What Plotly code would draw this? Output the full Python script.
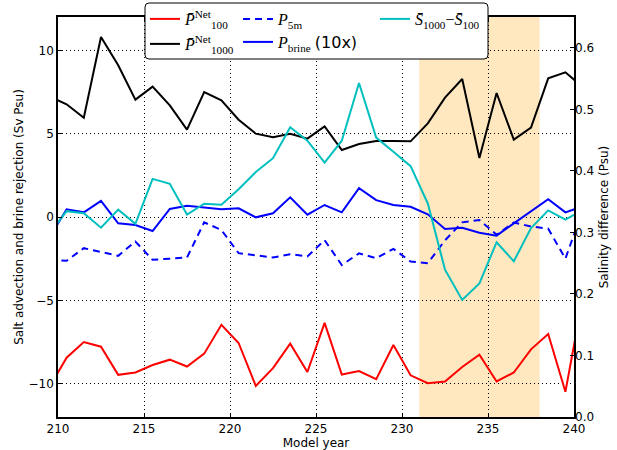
import plotly.graph_objects as go

# ---- data ----
years = [209.5, 210.5, 211.5, 212.5, 213.5, 214.5, 215.5, 216.5, 217.5, 218.5,
         219.5, 220.5, 221.5, 222.5, 223.5, 224.5, 225.5, 226.5, 227.5, 228.5,
         229.5, 230.5, 231.5, 232.5, 233.5, 234.5, 235.5, 236.5, 237.5, 238.5,
         239.5, 240.5]

p_net_100 = [-10.22, -8.44, -7.5, -7.78, -9.47, -9.33, -8.88, -8.56, -8.97, -8.2,
             -6.47, -7.56, -10.13, -9.07, -7.6, -9.3, -6.35, -9.45, -9.24, -9.73,
             -7.68, -9.5, -9.97, -9.87, -9.0, -8.26, -9.87, -9.33, -7.94, -7.02,
             -10.49, -4.9]

p_net_1000 = [7.24, 6.76, 5.96, 10.8, 9.1, 7.04, 7.82, 6.7, 5.24, 7.5,
              7.0, 5.84, 5.0, 4.78, 5.0, 4.7, 5.44, 4.02, 4.38, 4.56,
              4.56, 4.54, 5.62, 7.16, 8.28, 3.54, 7.44, 4.64, 5.36, 8.32,
              8.68, 7.8]

p_5m = [-2.57, -2.63, -1.87, -2.1, -2.33, -1.47, -2.57, -2.5, -2.43, -0.32,
        -0.78, -2.17, -2.31, -2.43, -2.23, -2.37, -1.39, -2.88, -2.18, -2.47,
        -1.91, -2.67, -2.77, -1.4, -0.32, -0.18, -1.06, -0.33, -0.57, -0.7,
        -2.5, 0.4]

p_brine = [-1.22, 0.46, 0.28, 0.97, -0.38, -0.48, -0.84, 0.48, 0.67, 0.56,
           0.46, 0.52, -0.02, 0.22, 1.18, 0.14, 0.72, 0.28, 1.73, 1.01,
           0.72, 0.61, 0.16, -0.72, -0.64, -0.94, -1.12, -0.38, 0.36, 1.07,
           0.28, 0.64]

s_diff = [0.298, 0.3345, 0.331, 0.3076, 0.337, 0.314, 0.387, 0.379, 0.329, 0.3465,
          0.345, 0.37, 0.398, 0.4206, 0.471, 0.449, 0.4135, 0.449, 0.5427, 0.454,
          0.431, 0.4077, 0.347, 0.2395, 0.1903, 0.217, 0.284, 0.253, 0.307, 0.3357,
          0.3206, 0.336]

shade_start, shade_end = 231, 238
x_ticks = [210, 215, 220, 225, 230, 235, 240]
y_ticks = [-10, -5, 0, 5, 10]
y2_ticks = [0.0, 0.1, 0.2, 0.3, 0.4, 0.5, 0.6]

# ---- layout geometry (pixels) ----
W, H = 617, 450
L, R, T, B = 58, 43, 17, 33
pw, ph = W - L - R, H - T - B


def px_x(px):
    return (px - L) / pw


def px_y(py):
    return (H - B - py) / ph


SERIF = "Liberation Serif"
SANS = "DejaVu Sans"

lbl_100 = "<i>P̄</i><sup>Net</sup><sub>100</sub>"
lbl_1000 = "<i>P̄</i><sup>Net</sup><sub>1000</sub>"
lbl_5m = "<i>P</i><sub>5m</sub>"
lbl_brine = "<i>P</i><sub>brine</sub> <span style=\"font-family:'DejaVu Sans'\">(10x)</span>"
lbl_s = "<i>S̄</i><sub>1000</sub>−<i>S̄</i><sub>100</sub>"

fig = go.Figure()
fig.add_trace(go.Scatter(x=years, y=p_net_100, mode="lines", name=lbl_100,
                         line=dict(color="#FF0000", width=2), legend="legend"))
fig.add_trace(go.Scatter(x=years, y=p_net_1000, mode="lines", name=lbl_1000,
                         line=dict(color="#000000", width=2), legend="legend2"))
fig.add_trace(go.Scatter(x=years, y=p_5m, mode="lines", name=lbl_5m,
                         line=dict(color="#0000FF", width=2, dash="7px,5px"), legend="legend3"))
fig.add_trace(go.Scatter(x=years, y=p_brine, mode="lines", name=lbl_brine,
                         line=dict(color="#0000FF", width=2), legend="legend4"))
fig.add_trace(go.Scatter(x=years, y=s_diff, mode="lines", name=lbl_s, yaxis="y2",
                         line=dict(color="#00BFBF", width=2), legend="legend5"))

# shaded period
fig.add_shape(type="rect", xref="x", yref="paper", x0=shade_start, x1=shade_end,
              y0=0, y1=1, fillcolor="#FFE8BF", line=dict(width=0), layer="below")

# legend frame (rounded box)
bx0, bx1, by0, by1 = 145, 488, 3, 59
r = 4
path = (f"M {px_x(bx0 + r)},{px_y(by0)} L {px_x(bx1 - r)},{px_y(by0)} "
        f"Q {px_x(bx1)},{px_y(by0)} {px_x(bx1)},{px_y(by0 + r)} "
        f"L {px_x(bx1)},{px_y(by1 - r)} Q {px_x(bx1)},{px_y(by1)} {px_x(bx1 - r)},{px_y(by1)} "
        f"L {px_x(bx0 + r)},{px_y(by1)} Q {px_x(bx0)},{px_y(by1)} {px_x(bx0)},{px_y(by1 - r)} "
        f"L {px_x(bx0)},{px_y(by0 + r)} Q {px_x(bx0)},{px_y(by0)} {px_x(bx0 + r)},{px_y(by0)} Z")
fig.add_shape(type="path", xref="paper", yref="paper", path=path,
              fillcolor="white", line=dict(color="black", width=1), layer="above")


def leg(px, py):
    return dict(x=px_x(px), y=px_y(py), xanchor="left", yanchor="middle",
                bgcolor="rgba(0,0,0,0)", borderwidth=0,
                font=dict(family=SERIF, size=16, color="black"),
                itemwidth=30, tracegroupgap=0)


axfont = dict(family=SANS, size=12, color="black")
grid = dict(showgrid=True, gridcolor="black", gridwidth=1, griddash="1px,3px")

fig.update_layout(
    width=W, height=H, margin=dict(l=L, r=R, t=T, b=B, pad=0, autoexpand=False),
    paper_bgcolor="white", plot_bgcolor="rgba(0,0,0,0)",
    font=dict(family=SANS, size=12, color="black"),
    showlegend=True,
    legend=leg(145, 19), legend2=leg(145, 44), legend3=leg(238, 19),
    legend4=leg(238, 42), legend5=leg(375, 19),
    xaxis=dict(range=[210, 240], tickmode="array", tickvals=x_ticks,
               ticks="inside", ticklen=4, tickcolor="black", automargin=False,
               showline=True, linecolor="black", linewidth=1.5, mirror="ticks",
               title=dict(text="Model year", font=axfont, standoff=2),
               tickfont=axfont, zeroline=False, **grid),
    yaxis=dict(range=[-12, 12], tickmode="array", tickvals=y_ticks,
               ticks="inside", ticklen=4, tickcolor="black", automargin=False,
               showline=True, linecolor="black", linewidth=1.5, mirror=True,
               title=dict(text="Salt advection and brine rejection (Sv Psu)",
                          font=axfont, standoff=2),
               tickfont=axfont, zeroline=False, **grid),
    yaxis2=dict(range=[0, 0.65], tickmode="array", tickvals=y2_ticks,
                tickformat=".1f", overlaying="y", side="right",
                ticks="inside", ticklen=4, tickcolor="black", automargin=False,
                showline=False, showgrid=False, zeroline=False,
                title=dict(text="Salinity difference (Psu)", font=axfont,
                           standoff=6),
                tickfont=axfont),
)

fig.write_html("out.html")
